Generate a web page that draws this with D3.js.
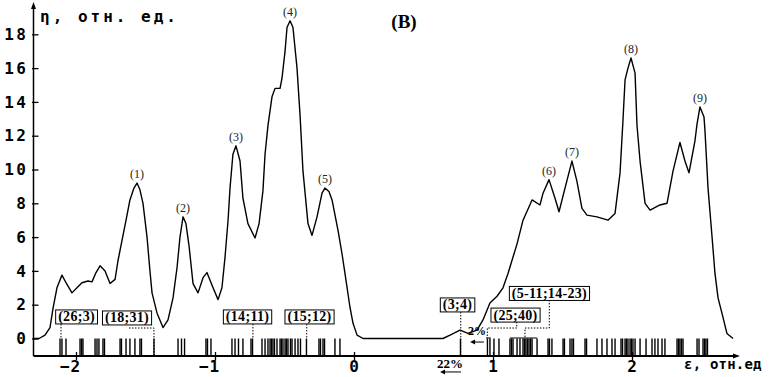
<!DOCTYPE html>
<html>
<head>
<meta charset="utf-8">
<script src="https://cdn.jsdelivr.net/npm/d3@7"></script>
<style>
  html, body { margin: 0; padding: 0; background: #fff; }
  svg { display: block; }
</style>
</head>
<body>
<div id="wrapper"></div>
<script>
// spectrum: [epsilon, eta]
const spectrum = [
  [-2.309, 0], [-2.266, 0], [-2.223, 0.2], [-2.187, 0.65], [-2.165, 1.8], [-2.137, 3.0],
  [-2.101, 3.75], [-2.072, 3.3], [-2.029, 2.7], [-1.993, 3.0], [-1.957, 3.3], [-1.914, 3.4],
  [-1.885, 3.35], [-1.856, 3.9], [-1.827, 4.3], [-1.791, 4.0], [-1.755, 3.25], [-1.719, 3.5],
  [-1.698, 4.6], [-1.669, 5.8], [-1.640, 7.0], [-1.612, 8.2], [-1.583, 8.9], [-1.561, 9.2],
  [-1.540, 8.8], [-1.518, 8.0], [-1.489, 6.0], [-1.468, 4.0], [-1.453, 2.7], [-1.417, 1.5],
  [-1.374, 0.65], [-1.338, 1.1], [-1.302, 2.4], [-1.273, 4.2], [-1.252, 6.0], [-1.230, 7.2],
  [-1.209, 6.8], [-1.187, 5.5], [-1.158, 3.25], [-1.122, 2.7], [-1.086, 3.6], [-1.058, 3.9],
  [-1.014, 3.0], [-0.978, 2.3], [-0.950, 3.0], [-0.928, 4.8], [-0.906, 7.0], [-0.892, 8.9],
  [-0.871, 10.9], [-0.849, 11.4], [-0.820, 10.5], [-0.799, 8.3], [-0.763, 6.8], [-0.712, 5.95],
  [-0.683, 6.8], [-0.655, 8.75], [-0.640, 10.9], [-0.619, 12.6], [-0.590, 14.3], [-0.568, 14.8],
  [-0.532, 14.8], [-0.518, 15.4], [-0.496, 17.0], [-0.482, 18.4], [-0.460, 18.8], [-0.439, 18.4],
  [-0.410, 16.0], [-0.388, 13.2], [-0.367, 9.9], [-0.331, 6.8], [-0.302, 6.1], [-0.266, 7.2],
  [-0.230, 8.6], [-0.209, 8.9], [-0.180, 8.7], [-0.158, 8.2], [-0.115, 6.4], [-0.086, 5.0],
  [-0.065, 3.85], [-0.029, 1.85], [-0.007, 0.9], [0.022, 0.2], [0.065, 0], [0.640, 0],
  [0.691, 0.2], [0.763, 0.5], [0.820, 0.3], [0.885, 0.5], [0.928, 1.1], [0.978, 2.1],
  [1.029, 2.5], [1.072, 3.0], [1.108, 3.85], [1.173, 5.6], [1.216, 7.0], [1.281, 8.2],
  [1.338, 7.9], [1.360, 8.6], [1.403, 9.4], [1.446, 8.3], [1.475, 7.5], [1.518, 8.9],
  [1.568, 10.5], [1.604, 9.3], [1.640, 7.7], [1.676, 7.3], [1.748, 7.2], [1.827, 7.0],
  [1.878, 7.4], [1.914, 9.8], [1.935, 12.9], [1.950, 15.3], [1.971, 16.0], [1.993, 16.6],
  [2.022, 15.7], [2.036, 12.6], [2.058, 10.5], [2.094, 8.0], [2.130, 7.6], [2.201, 7.9],
  [2.252, 8.0], [2.295, 9.9], [2.345, 11.6], [2.381, 10.5], [2.410, 9.8], [2.453, 11.7],
  [2.468, 12.7], [2.489, 13.7], [2.518, 13.1], [2.525, 12.3], [2.547, 8.9], [2.576, 6.0],
  [2.597, 3.85], [2.619, 2.4], [2.647, 1.5], [2.683, 0.3], [2.727, 0]
];

// numbered peaks (epsilon of each maximum)
const peakEps = [-1.561, -1.230, -0.849, -0.460, -0.209, 1.403, 1.568, 1.993, 2.489];

// rug of transition positions along the epsilon axis
const rugEps = [
  -2.115, -2.101, -2.072, -1.971, -1.960, -1.950, -1.863, -1.849, -1.835, -1.806, -1.795,
  -1.683, -1.673, -1.640, -1.612, -1.576, -1.540, -1.529, -1.439,
  -1.266, -1.241, -1.219, -1.065, -1.054, -1.029,
  -0.878, -0.856, -0.831, -0.799, -0.741, -0.730, -0.662, -0.640, -0.619, -0.604, -0.594,
  -0.583, -0.572, -0.554, -0.532, -0.522, -0.511, -0.496, -0.486, -0.475, -0.457, -0.446,
  -0.424, -0.403, -0.385, -0.342, -0.252, -0.241, -0.223, -0.212, -0.137, -0.101,
  0.766, 0.960, 0.978, 1.007, 1.043, 1.122, 1.133, 1.144, 1.173, 1.194, 1.216, 1.227, 1.237,
  1.248, 1.259, 1.270, 1.281, 1.317, 1.396, 1.406, 1.424, 1.504, 1.514, 1.554, 1.568, 1.579,
  1.662, 1.673, 1.748, 1.784, 1.820, 1.856, 1.878, 1.921, 1.932, 1.950, 1.960, 1.971, 1.986,
  1.996, 2.007, 2.022, 2.058, 2.101, 2.144, 2.165, 2.187, 2.216, 2.237, 2.324, 2.335, 2.345,
  2.356, 2.367, 2.468, 2.482, 2.511, 2.522, 2.532, 2.543
];

const yTicks = [0, 2, 4, 6, 8, 10, 12, 14, 16, 18];
const xTicks = [-2, -1, 0, 1, 2];

// boxed labels: text, box centre (eps), box top (eta)
const boxTexts = ['(26;3)', '(18;31)', '(14;11)', '(15;12)', '(3;4)', '(25;40)', '(5-11;14-23)'];
const boxEps = [-1.996, -1.633, -0.766, -0.320, 0.745, 1.162, 1.406];
const boxEta = [1.69, 1.63, 1.69, 1.69, 2.40, 1.80, 3.08];
const leaders = [
  [[-2.108, 0.86], [-2.108, 0]],
  [[-1.619, 0.62], [-1.439, 0.62], [-1.439, -1.04]],
  [[-0.727, 0.86], [-0.727, 0]],
  [[-0.340, 0.86], [-0.340, 0]],
  [[0.768, 1.57], [0.768, -1.04]],
  [[1.171, 0.98], [1.171, 0.62], [0.959, 0.62], [0.959, 0.03]],
  [[1.405, 2.28], [1.405, 0.62], [1.230, 0.62], [1.230, 0.03]]
];
const brackets = [
  [[1.122, 0.03], [1.317, 0.03]],
  [[0.950, 0.03], [0.985, 0.03]]
];

// percentage markers: text, eps, eta of text, arrow [from, to] eps, arrow eta
const pctTexts = ['2%', '22%'];
const pctEps = [0.885, 0.691];
const pctEta = [0.21, -1.72];
const pctArrows = [[0.935, 0.835], [0.770, 0.619]];
const pctArrowEta = [-0.21, -1.98];

const dimensions = { width: 777, height: 377 };

const svg = d3.select('#wrapper')
  .append('svg')
  .attr('width', dimensions.width)
  .attr('height', dimensions.height);

const xScale = d3.scaleLinear().domain([-2, 2]).range([76, 632]);
const yScale = d3.scaleLinear().domain([0, 18]).range([338.5, 34.3]);

const axisLeftX = 33.5;
const axisBottomY = 356;
const axisRightX = 740;
const axisTopY = 2;

const monoFont = '"DejaVu Sans Mono", monospace';
const serifFont = '"Liberation Serif", "Times New Roman", serif';

// rug marks
svg.append('g')
  .selectAll('line')
  .data(rugEps)
  .join('line')
  .attr('x1', d => xScale(d))
  .attr('x2', d => xScale(d))
  .attr('y1', yScale(0))
  .attr('y2', axisBottomY)
  .attr('stroke', '#000')
  .attr('stroke-width', 1.4);

// spectrum line
const line = d3.line()
  .x(d => xScale(d[0]))
  .y(d => yScale(d[1]));

svg.append('path')
  .datum(spectrum)
  .attr('d', line)
  .attr('fill', 'none')
  .attr('stroke', '#000')
  .attr('stroke-width', 1.4)
  .attr('stroke-linejoin', 'round');

// axes lines + arrows
svg.append('line')
  .attr('x1', axisLeftX).attr('x2', axisLeftX)
  .attr('y1', axisBottomY).attr('y2', axisTopY + 4)
  .attr('stroke', '#000').attr('stroke-width', 1.5);
svg.append('path')
  .attr('d', `M${axisLeftX - 2.5},${axisTopY + 7}L${axisLeftX},${axisTopY}L${axisLeftX + 2.5},${axisTopY + 7}Z`)
  .attr('fill', '#000');

svg.append('line')
  .attr('x1', axisLeftX).attr('x2', axisRightX - 4)
  .attr('y1', axisBottomY).attr('y2', axisBottomY)
  .attr('stroke', '#000').attr('stroke-width', 2);
svg.append('path')
  .attr('d', `M${axisRightX - 7},${axisBottomY - 2.5}L${axisRightX},${axisBottomY}L${axisRightX - 7},${axisBottomY + 2.5}Z`)
  .attr('fill', '#000');

// y axis ticks
const yAxis = svg.append('g')
  .attr('transform', `translate(${axisLeftX},0)`)
  .call(d3.axisLeft(yScale).tickValues(yTicks).tickSizeInner(-5).tickSizeOuter(0).tickPadding(5));
yAxis.select('.domain').remove();
yAxis.selectAll('.tick line').attr('x1', -1.5).attr('stroke-width', 1.3);
yAxis.selectAll('.tick text')
  .attr('font-family', monoFont)
  .attr('font-weight', 'bold')
  .attr('font-size', 16)
  .attr('letter-spacing', 2.5)
  .attr('fill', '#000');

// x axis ticks
const xAxis = svg.append('g')
  .attr('transform', `translate(0,${axisBottomY})`)
  .call(d3.axisBottom(xScale).tickValues(xTicks).tickSize(4).tickPadding(1)
    .tickFormat(d => d < 0 ? '\u2212' + Math.abs(d) : d));
xAxis.select('.domain').remove();
xAxis.selectAll('.tick line').attr('y1', -4).attr('stroke-width', 1.3);
xAxis.selectAll('.tick text')
  .attr('font-family', monoFont)
  .attr('font-weight', 'bold')
  .attr('font-size', 16)
  .attr('letter-spacing', 1)
  .attr('dx', d => d < 0 ? -6 : 0)
  .attr('fill', '#000');

// axis titles
svg.append('text')
  .attr('x', 40)
  .attr('y', 22)
  .attr('font-family', monoFont)
  .attr('font-weight', 'bold')
  .attr('font-size', 16)
  .attr('letter-spacing', 3)
  .text('η, отн. ед.');

svg.append('text')
  .attr('x', 684)
  .attr('y', 369)
  .attr('font-family', monoFont)
  .attr('font-weight', 'bold')
  .attr('font-size', 14)
  .attr('letter-spacing', 0.2)
  .text('ε, отн.ед');

// panel label
svg.append('text')
  .attr('x', 404)
  .attr('y', 28)
  .attr('text-anchor', 'middle')
  .attr('font-family', serifFont)
  .attr('font-weight', 'bold')
  .attr('font-size', 19)
  .text('(В)');

// peak numbers
const peakEta = peakEps.map(e => {
  const p = spectrum.reduce((a, b) => Math.abs(b[0] - e) < Math.abs(a[0] - e) ? b : a);
  return p[1];
});
svg.append('g')
  .selectAll('text')
  .data(peakEps)
  .join('text')
  .attr('x', d => xScale(d))
  .attr('y', (d, i) => yScale(peakEta[i]) - 5)
  .attr('text-anchor', 'middle')
  .attr('font-family', serifFont)
  .attr('font-size', 12)
  .attr('fill', '#222')
  .text((d, i) => `(${i + 1})`);

// leaders
const leaderLine = d3.line()
  .x(d => xScale(d[0]))
  .y(d => yScale(d[1]));

svg.append('g')
  .selectAll('path')
  .data(leaders)
  .join('path')
  .attr('d', leaderLine)
  .attr('fill', 'none')
  .attr('stroke', '#000')
  .attr('stroke-width', 1)
  .attr('stroke-dasharray', '1.5,1.5');

svg.append('g')
  .selectAll('path')
  .data(brackets)
  .join('path')
  .attr('d', leaderLine)
  .attr('fill', 'none')
  .attr('stroke', '#000')
  .attr('stroke-width', 1);

// boxed labels
const boxes = svg.append('g')
  .selectAll('g')
  .data(boxTexts)
  .join('g');

boxes.each(function (d, i) {
  const g = d3.select(this);
  const cx = xScale(boxEps[i]);
  const top = yScale(boxEta[i]);
  const rect = g.append('rect');
  const t = g.append('text')
    .attr('x', cx)
    .attr('y', top + 11.5)
    .attr('text-anchor', 'middle')
    .attr('font-family', serifFont)
    .attr('font-weight', 'bold')
    .attr('font-size', 14)
    .attr('letter-spacing', 0.3)
    .text(d);
  const bb = t.node().getBBox();
  rect.attr('x', bb.x - 2.5)
    .attr('y', top)
    .attr('width', bb.width + 5)
    .attr('height', 14)
    .attr('fill', '#fff')
    .attr('stroke', '#000')
    .attr('stroke-width', 1);
});

// percentage markers
pctTexts.forEach((txt, i) => {
  svg.append('text')
    .attr('x', xScale(pctEps[i]))
    .attr('y', yScale(pctEta[i]))
    .attr('text-anchor', 'middle')
    .attr('font-family', serifFont)
    .attr('font-weight', 'bold')
    .attr('font-size', i === 0 ? 12 : 13)
    .text(txt);
  const x0 = xScale(pctArrows[i][0]);
  const x1 = xScale(pctArrows[i][1]);
  const y = yScale(pctArrowEta[i]);
  svg.append('line')
    .attr('x1', x0).attr('x2', x1 + 3)
    .attr('y1', y).attr('y2', y)
    .attr('stroke', '#000').attr('stroke-width', 1);
  svg.append('path')
    .attr('d', `M${x1 + 5},${y - 2.5}L${x1},${y}L${x1 + 5},${y + 2.5}Z`)
    .attr('fill', '#000');
});
</script>
</body>
</html>
